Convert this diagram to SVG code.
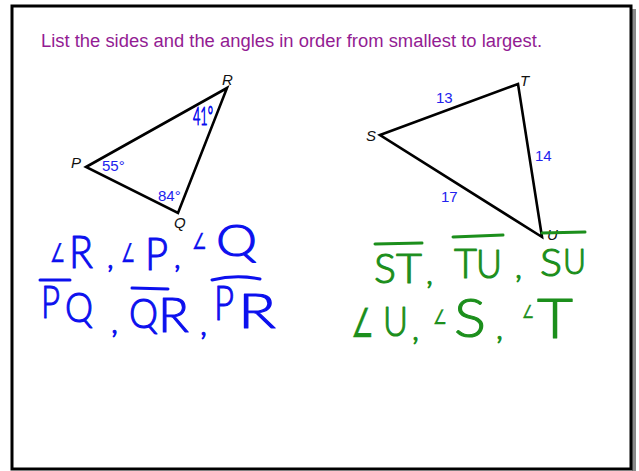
<svg xmlns="http://www.w3.org/2000/svg" width="639" height="471" viewBox="0 0 639 471">
<style>
.title{font-family:"Liberation Sans",Arial,sans-serif;font-size:18px;fill:#931c93}
.vl{font-family:"Liberation Sans",Arial,sans-serif;font-size:15px;font-style:italic;fill:#111}
.num{font-family:"Liberation Sans",Arial,sans-serif;font-size:15px;fill:#2222ee}
.tri{fill:none;stroke:#000;stroke-width:2.6;stroke-linejoin:miter}
.hb{font-family:Lato,"Liberation Sans","DejaVu Sans",sans-serif;font-weight:300;fill:#0c10ee;stroke:#0c10ee;stroke-width:1.1;stroke-linejoin:round}
.hg{font-family:Lato,"Liberation Sans","DejaVu Sans",sans-serif;font-weight:300;fill:#1c8f1c;stroke:#1c8f1c;stroke-width:1.1;stroke-linejoin:round}
.ang{font-family:"DejaVu Sans",sans-serif;stroke-width:0.3}
.obl{stroke:#0c10ee;stroke-width:3;stroke-linecap:round;fill:none}
.ogr{stroke:#1c8f1c;stroke-width:3;stroke-linecap:round;fill:none}
</style>
<rect x="0" y="0" width="639" height="471" fill="#fff"/>
<rect x="632" y="9" width="4" height="462" fill="#8a8a8a"/>
<rect x="12" y="6" width="619" height="463" fill="#fff" stroke="#000" stroke-width="3"/>
<text class="title" x="41" y="47" textLength="501" lengthAdjust="spacingAndGlyphs">List the sides and the angles in order from smallest to largest.</text>

<g id="triangle-PQR">
<polygon class="tri" points="86,167 227,88 178,213"/>
<text class="vl" x="222" y="85">R</text>
<text class="vl" x="71" y="168">P</text>
<text class="vl" x="174" y="228">Q</text>
<text class="num" x="102" y="171">55°</text>
<text class="num" x="158" y="201">84°</text>
<text class="hb" x="193" y="125" font-size="26" stroke-width="0.6" textLength="20" lengthAdjust="spacingAndGlyphs">41°</text>
</g>

<g id="triangle-STU">
<polygon class="tri" points="380,135 518,84 542,237"/>
<text class="vl" x="366" y="141">S</text>
<text class="vl" x="520" y="86">T</text>
<text class="vl" x="547" y="240" font-size="12">U</text>
<text class="num" x="436" y="103">13</text>
<text class="num" x="535" y="161">14</text>
<text class="num" x="441" y="202">17</text>
</g>

<g id="angles-PQR">
<text class="hb ang" x="50" y="262" font-size="26" textLength="15" lengthAdjust="spacingAndGlyphs">∠</text>
<text class="hb" x="69" y="268" font-size="46" textLength="24" lengthAdjust="spacingAndGlyphs">R</text>
<text class="hb" x="107" y="268" font-size="30">,</text>
<text class="hb ang" x="121" y="262" font-size="26" textLength="14" lengthAdjust="spacingAndGlyphs">∠</text>
<text class="hb" x="145" y="270" font-size="46" textLength="23" lengthAdjust="spacingAndGlyphs">P</text>
<text class="hb" x="174" y="268" font-size="30">,</text>
<text class="hb ang" x="192" y="249" font-size="22" textLength="15" lengthAdjust="spacingAndGlyphs">∠</text>
<text class="hb" x="216" y="256" font-size="44" textLength="41" lengthAdjust="spacingAndGlyphs">Q</text>
</g>

<g id="sides-PQR">
<text class="hb" x="41" y="318" font-size="46" textLength="19" lengthAdjust="spacingAndGlyphs">P</text>
<text class="hb" x="65" y="322" font-size="42" textLength="28" lengthAdjust="spacingAndGlyphs">Q</text>
<path class="obl" d="M40,280 L70,280"/>
<text class="hb" x="111" y="333" font-size="32">,</text>
<text class="hb" x="129" y="328" font-size="42" textLength="29" lengthAdjust="spacingAndGlyphs">Q</text>
<text class="hb" x="158" y="332" font-size="48" textLength="31" lengthAdjust="spacingAndGlyphs">R</text>
<path class="obl" d="M132,288 L168,289"/>
<text class="hb" x="200" y="335" font-size="32">,</text>
<text class="hb" x="214" y="320" font-size="48" textLength="20" lengthAdjust="spacingAndGlyphs">P</text>
<text class="hb" x="238" y="328" font-size="48" textLength="38" lengthAdjust="spacingAndGlyphs">R</text>
<path class="obl" d="M212,280 Q236,274 260,279"/>
</g>

<g id="sides-STU">
<text class="hg" x="374" y="283" font-size="42" textLength="22" lengthAdjust="spacingAndGlyphs">S</text>
<text class="hg" x="396" y="283" font-size="42" textLength="26" lengthAdjust="spacingAndGlyphs">T</text>
<path class="ogr" d="M375,244 L422,243"/>
<text class="hg" x="426" y="284" font-size="32">,</text>
<text class="hg" x="454" y="278" font-size="42" textLength="23" lengthAdjust="spacingAndGlyphs">T</text>
<text class="hg" x="476" y="278" font-size="40" textLength="26" lengthAdjust="spacingAndGlyphs">U</text>
<path class="ogr" d="M453,237 L503,235"/>
<text class="hg" x="515" y="278" font-size="32">,</text>
<text class="hg" x="540" y="276" font-size="38" textLength="22" lengthAdjust="spacingAndGlyphs">S</text>
<text class="hg" x="563" y="274" font-size="36" textLength="23" lengthAdjust="spacingAndGlyphs">U</text>
<path class="ogr" d="M542,233 L585,232"/>
</g>

<g id="angles-STU">
<text class="hg ang" x="351" y="337" font-size="40" textLength="23" lengthAdjust="spacingAndGlyphs">∠</text>
<text class="hg" x="383" y="336" font-size="42" textLength="25" lengthAdjust="spacingAndGlyphs">U</text>
<text class="hg" x="412" y="340" font-size="32">,</text>
<text class="hg ang" x="433" y="324" font-size="20" textLength="14" lengthAdjust="spacingAndGlyphs">∠</text>
<text class="hg" x="454" y="337" font-size="54" textLength="32" lengthAdjust="spacingAndGlyphs">S</text>
<text class="hg" x="496" y="339" font-size="32">,</text>
<text class="hg ang" x="522" y="318" font-size="18" textLength="12" lengthAdjust="spacingAndGlyphs">∠</text>
<text class="hg" x="537" y="338" font-size="56" textLength="36" lengthAdjust="spacingAndGlyphs">T</text>
</g>
</svg>
